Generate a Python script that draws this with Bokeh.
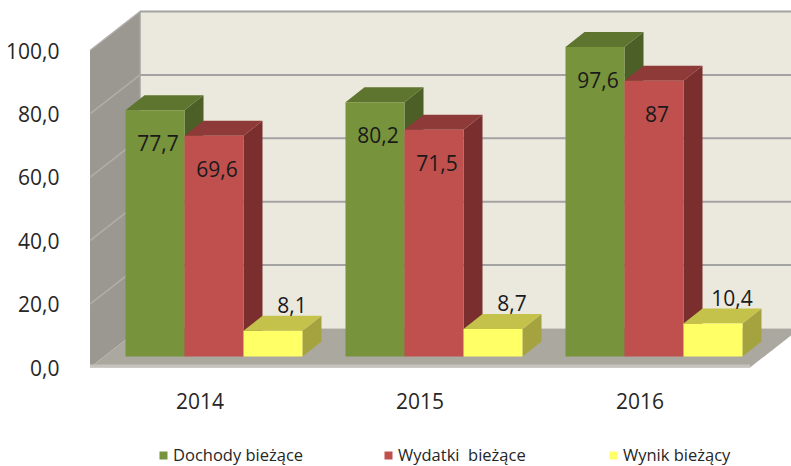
from bokeh.plotting import figure
from bokeh.models import Range1d, FixedTicker, Legend, LegendItem
from bokeh.embed import file_html
from bokeh.resources import INLINE
from bokeh.core.properties import value

# ---- data ----
years = ["2014", "2015", "2016"]
series_names = ["Dochody bieżące", "Wydatki  bieżące", "Wynik bieżący"]
dochody = [77.7, 80.2, 97.6]
wydatki = [69.6, 71.5, 87.0]
wynik = [8.1, 8.7, 10.4]
y_ticks = [0, 20, 40, 60, 80, 100]
y_tick_labels = ["0,0", "20,0", "40,0", "60,0", "80,0", "100,0"]

series_values = [dochody, wydatki, wynik]
front_colors = ["#77933c", "#c0504d", "#ffff66"]
top_colors = ["#5e7530", "#8e3a38", "#c4c24b"]
side_colors = ["#4b5f26", "#7a2f2e", "#a4a33f"]

FONT = "Open Sans"

# ---- 3D geometry (style) ----
PXX = 220.0   # px per category
PXY = 3.17    # px per value unit
WDX, WDY = 50 / PXX, 39 / PXY        # wall depth
BDX0, BDY0 = 14 / PXX, 11 / PXY      # bar front plane offset
BDX, BDY = 19 / PXX, 15 / PXY        # bar depth
BW = 59 / PXX                        # bar width
YMAX = y_ticks[-1]

W, H = 791, 466
LEFT = 78
CAT0_PX = 199.5
ZERO_PX = 367
x_start = -(CAT0_PX - LEFT) / PXX
x_end = x_start + (W - LEFT) / PXX
y_start = -(H - ZERO_PX) / PXY
y_end = ZERO_PX / PXY

p = figure(width=W, height=H, output_backend="svg", toolbar_location=None,
           x_range=Range1d(x_start, x_end), y_range=Range1d(y_start, y_end),
           min_border_left=LEFT, min_border_right=0, min_border_top=0,
           min_border_bottom=0)
p.outline_line_color = None
p.background_fill_color = "white"
p.border_fill_color = "white"
p.xgrid.visible = False
p.ygrid.visible = False

n = len(years)
xl, xr = -0.5, n - 0.5

# walls and floor
p.quad(left=xl + WDX, right=xr + WDX, bottom=WDY, top=YMAX + WDY,
       fill_color="#ebe8dd", line_color=None)
p.patch([xl, xl, xl + WDX, xl + WDX], [0, YMAX, YMAX + WDY, WDY],
        fill_color="#9b9891", line_color=None)
p.patch([xl, xr, xr + WDX, xl + WDX], [0, 0, WDY, WDY],
        fill_color="#aba89f", line_color=None)
p.segment(x0=[xl], y0=[0.5], x1=[xr], y1=[0.5], line_color="#c4c2ba", line_width=3)

# gridlines
gt = y_ticks[1:]
p.segment(x0=[xl + WDX] * len(gt), y0=[t + WDY for t in gt],
          x1=[xr + WDX] * len(gt), y1=[t + WDY for t in gt],
          line_color="#a3a3a3", line_width=2)
p.segment(x0=[xl] * len(gt), y0=gt, x1=[xl + WDX] * len(gt),
          y1=[t + WDY for t in gt], line_color="#b0aea8", line_width=1.5)
p.segment(x0=[xl + WDX], y0=[WDY], x1=[xl + WDX], y1=[YMAX + WDY],
          line_color="#a3a3a3", line_width=1.5)


def fmt(v):
    return ("%g" % v).replace(".", ",")


legend_items = []
for j, vals in enumerate(series_values):
    x0s = [i + BDX0 + (j - 1) * BW - BW / 2 for i in range(n)]
    x1s = [x + BW for x in x0s]
    tops = [BDY0 + v for v in vals]
    # side faces
    p.patches(xs=[[x1, x1, x1 + BDX, x1 + BDX] for x1 in x1s],
              ys=[[BDY0, t, t + BDY, BDY0 + BDY] for t in tops],
              fill_color=side_colors[j], line_color=None)
    # top faces
    p.patches(xs=[[a, b, b + BDX, a + BDX] for a, b in zip(x0s, x1s)],
              ys=[[t, t, t + BDY, t + BDY] for t in tops],
              fill_color=top_colors[j], line_color=None)
    # front faces
    r = p.quad(left=x0s, right=x1s, bottom=[BDY0] * n, top=tops,
               fill_color=front_colors[j], line_color=None)
    legend_items.append(LegendItem(label=series_names[j], renderers=[r]))
    # value labels
    cx = [(a + b) / 2 for a, b in zip(x0s, x1s)]
    if j < 2:
        p.text(x=[c + 3 / PXX for c in cx], y=[t - 33 / PXY for t in tops],
               text=[fmt(v) for v in vals], text_align="center",
               text_baseline="middle", text_font=value(FONT),
               text_font_size="21px", text_color="#1a1a1a")
    else:
        p.text(x=[c + BDX for c in cx], y=[t + BDY + 3 / PXY for t in tops],
               text=[fmt(v) for v in vals], text_align="center",
               text_baseline="bottom", text_font=value(FONT),
               text_font_size="21px", text_color="#1a1a1a")

# axes
p.yaxis.ticker = FixedTicker(ticks=y_ticks)
p.yaxis.major_label_overrides = {t: l for t, l in zip(y_ticks, y_tick_labels)}
p.yaxis.axis_line_color = None
p.yaxis.major_tick_line_color = None
p.yaxis.minor_tick_line_color = None
p.yaxis.major_label_standoff = LEFT - 65
p.yaxis.major_label_text_font = FONT
p.yaxis.major_label_text_font_size = "21px"
p.yaxis.major_label_text_color = "#262626"

p.xaxis.fixed_location = 0
p.xaxis.ticker = FixedTicker(ticks=list(range(n)))
p.xaxis.major_label_overrides = {i: y for i, y in enumerate(years)}
p.xaxis.axis_line_color = None
p.xaxis.major_tick_line_color = None
p.xaxis.minor_tick_line_color = None
p.xaxis.major_label_standoff = 19
p.xaxis.major_label_text_font = FONT
p.xaxis.major_label_text_font_size = "21px"
p.xaxis.major_label_text_color = "#262626"

legend = Legend(items=legend_items, orientation="horizontal",
                location=(158 - LEFT, 0),
                glyph_width=10, glyph_height=10, label_standoff=5,
                label_width=210, spacing=0, padding=0, margin=0,
                label_height=18,
                label_text_font=FONT, label_text_font_size="16.5px",
                label_text_color="#262626",
                border_line_color=None, background_fill_alpha=0)
p.add_layout(legend, "center")

open("out.html", "w").write(file_html(p, INLINE))
